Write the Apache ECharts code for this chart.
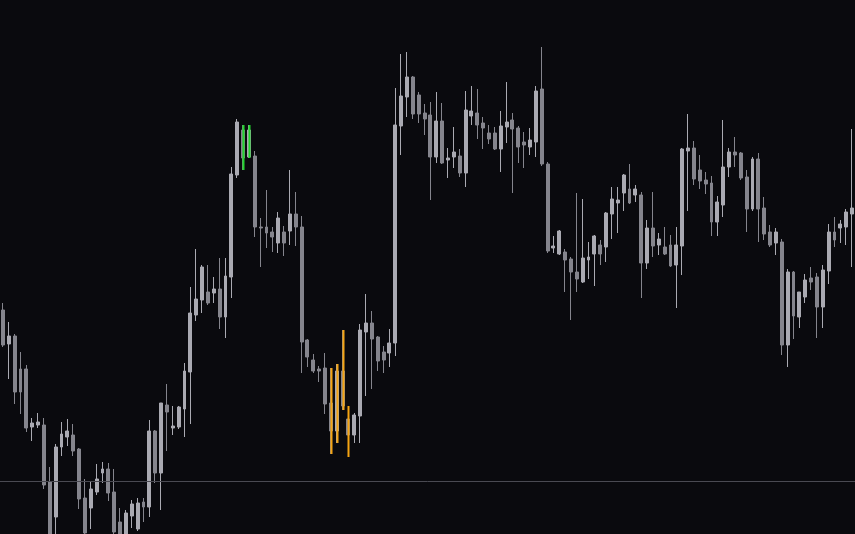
<!DOCTYPE html>
<html>
<head>
<meta charset="utf-8">
<style>
  html, body { margin: 0; padding: 0; background: #0a0a0e; }
  #chart { width: 855px; height: 534px; }
</style>
<script src="https://cdn.jsdelivr.net/npm/echarts@6/dist/echarts.min.js"></script>
</head>
<body>
<div id="chart"></div>
<script>
const opens = [224,190,198,165,165,107,109,109,52,17,
87,97,99,85,36,26,42,61,65,42,
12,-3,18,5,32,27,103,61,129,106,
107,125,162,219,234,242,241,245,217,257,
359,404,377,378,307,307,302,291,302,303,
320,307,194,174,165,166,131,103,163,115,
99,118,202,211,197,182,181,191,408,437,
457,439,421,419,377,413,374,377,378,361,
418,421,411,401,401,385,407,414,406,392,
387,392,445,370,286,280,282,275,262,252,
274,280,289,287,320,331,341,345,339,339,
271,306,289,287,289,269,288,383,386,364,
354,351,312,329,367,382,381,357,325,375,
326,302,291,292,189,262,217,237,256,257,
227,263,302,306,307,320];
const closes = [189,198,142,142,106,111,112,49,0,87,
100,103,83,35,1,45,55,65,41,2,
-3,21,30,31,27,103,61,131,122,108,
127,163,221,235,267,231,245,217,258,360,
412,376,404,307,306,301,297,316,291,320,
307,192,177,163,163,130,103,163,128,99,
119,204,211,195,173,174,191,409,438,457,
420,420,415,377,413,371,376,382,361,424,
423,409,406,395,385,408,412,405,387,389,
394,443,370,283,288,303,274,262,255,276,
277,298,280,321,335,334,359,331,345,271,
306,288,295,280,268,289,385,386,355,353,
350,312,332,367,382,379,356,325,375,325,
300,289,302,189,262,218,242,254,252,227,
264,302,294,310,322,326];
const lows = [187,155,130,120,102,93,106,45,-5,-2,
78,88,78,25,-2,5,39,51,33,-3,
-5,-5,6,3,12,17,51,24,83,99,
105,97,110,213,221,229,231,205,196,236,
356,364,376,297,267,286,282,281,278,289,
288,161,167,161,152,120,80,91,124,77,
91,91,138,145,163,161,167,178,379,417,
415,411,399,334,371,370,356,366,357,347,
409,395,385,390,384,362,391,341,371,366,
379,377,368,281,281,279,242,214,242,251,
255,248,269,272,295,301,323,330,332,236,
265,277,279,279,267,226,259,323,349,345,
340,298,298,317,357,367,354,302,323,292,
294,287,279,179,167,195,206,231,244,196,
206,250,287,291,289,267];
const highs = [231,212,200,182,169,116,121,116,67,90,
112,115,110,86,55,53,70,72,71,65,
26,24,34,36,36,114,104,131,150,128,
128,171,247,285,269,269,257,276,276,367,
415,409,409,383,316,344,307,322,308,364,
342,318,195,180,168,181,166,170,204,128,
121,210,240,223,198,188,205,446,480,482,
458,442,430,432,442,431,386,407,385,443,
448,445,417,409,407,423,452,421,408,402,
406,448,487,372,298,304,285,277,341,335,
292,299,294,322,347,347,360,370,349,342,
314,342,301,307,299,307,386,420,393,379,
362,358,338,414,386,397,382,364,377,381,
337,309,306,295,265,263,242,260,267,261,
269,310,317,314,325,405];
const greenIdx = [41, 42];
const orangeIdx = [56, 57, 58, 59];
const referenceLevel = 53;

const categories = opens.map((_, i) => String(i + 1));
const candleData = opens.map((o, i) => [o, closes[i], lows[i], highs[i]]);
const mkHi = idx => idx.map(i => [i, lows[i], highs[i]]);

function wickRenderer(color) {
  return function (params, api) {
    const top = api.coord([api.value(0), api.value(2)]);
    const bot = api.coord([api.value(0), api.value(1)]);
    const x = Math.round(top[0]) + 0.5;
    return {
      type: 'line',
      shape: { x1: x, y1: Math.round(top[1]), x2: x, y2: Math.round(bot[1]) },
      style: { stroke: color, lineWidth: 2 }
    };
  };
}

const chart = echarts.init(document.getElementById('chart'));
chart.setOption({
  backgroundColor: '#0a0a0e',
  animation: false,
  grid: { left: -1.2, right: -1.8, top: 0, bottom: 0 },
  xAxis: {
    type: 'category', data: categories, boundaryGap: true,
    axisLine: { show: false }, axisTick: { show: false }, axisLabel: { show: false }, splitLine: { show: false }
  },
  yAxis: {
    type: 'value', min: 0, max: 534,
    axisLine: { show: false }, axisTick: { show: false }, axisLabel: { show: false }, splitLine: { show: false }
  },
  series: [
    {
      type: 'candlestick',
      data: candleData,
      barWidth: 3.4,
      clip: true,
      itemStyle: {
        color: '#aaaab2', color0: '#85858d',
        borderColor: '#aaaab2', borderColor0: '#85858d',
        borderWidth: 1
      },
      markLine: {
        silent: true, symbol: ['none', 'none'], label: { show: false },
        lineStyle: { color: '#4a4a52', width: 1, type: 'solid' },
        data: [{ yAxis: referenceLevel }]
      }
    },
    {
      type: 'custom', data: mkHi(greenIdx), renderItem: wickRenderer('#22d62e'),
      encode: { x: 0, y: [1, 2] }, z: 5, silent: true
    },
    {
      type: 'custom', data: mkHi(orangeIdx), renderItem: wickRenderer('#f5a412'),
      encode: { x: 0, y: [1, 2] }, z: 5, silent: true
    }
  ]
});
</script>
</body>
</html>
